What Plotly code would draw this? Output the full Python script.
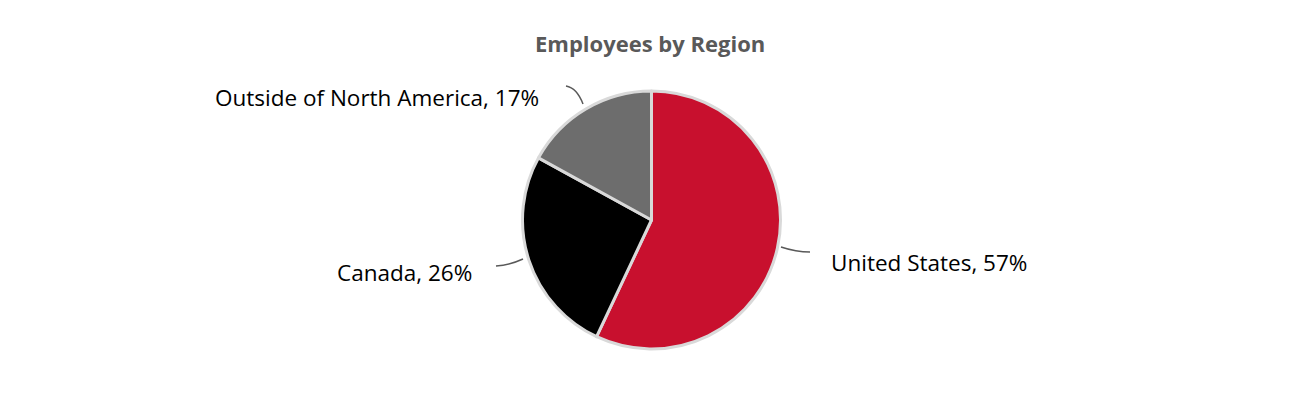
import plotly.graph_objects as go

regions = ["United States", "Canada", "Outside of North America"]
shares = [57, 26, 17]
colors = ["#C8102E", "#000000", "#6D6D6D"]
title_text = "Employees by Region"

W, H = 1300, 400
OFF = 8  # page body margin
cx, cy, R = 651.5, 220, 129

def px(x):
    return (x - OFF) / W

def py(y):
    return 1 - (y - OFF) / H

fig = go.Figure()
fig.add_trace(go.Pie(
    labels=regions, values=shares, sort=False, direction="clockwise", rotation=0,
    marker=dict(colors=colors, line=dict(color="#D9D9D9", width=3)),
    textinfo="none", hoverinfo="label+percent", showlegend=False,
    domain=dict(x=[px(cx - R), px(cx + R)], y=[py(cy + R), py(cy - R)]),
))

# label placement (layout choices) per slice: text anchor + leader path
label_layout = {
    "United States": dict(tx=829, ty=262, anchor="left", path=[(781, 247), (796, 252), (810, 252)]),
    "Canada": dict(tx=474, ty=272, anchor="right", path=[(523, 259), (510, 265), (496, 266)]),
    "Outside of North America": dict(tx=541, ty=97, anchor="right", path=[(583, 104), (577, 88), (566, 86)]),
}

shapes = []
annotations = []
total = sum(shares)
for name, v in zip(regions, shares):
    L = label_layout[name]
    annotations.append(dict(
        x=px(L["tx"]), y=py(L["ty"]), xref="paper", yref="paper",
        text=f"{name}, {round(100 * v / total)}%", showarrow=False,
        xanchor=L["anchor"], yanchor="middle",
        font=dict(family="Open Sans", size=22.5, color="#000000"),
    ))
    (x0, y0), (x1, y1), (x2, y2) = L["path"]
    shapes.append(dict(
        type="path", xref="paper", yref="paper",
        path=f"M {px(x0)} {py(y0)} Q {px(x1)} {py(y1)} {px(x2)} {py(y2)}",
        line=dict(color="#595959", width=1.5),
    ))

annotations.append(dict(
    x=px(650), y=py(43), xref="paper", yref="paper", text=f"<b>{title_text}</b>",
    showarrow=False, xanchor="center", yanchor="middle",
    font=dict(family="Open Sans", size=22, color="#595959"),
))

fig.update_layout(
    width=W, height=H, margin=dict(l=0, r=0, t=0, b=0),
    paper_bgcolor="white", plot_bgcolor="white",
    shapes=shapes, annotations=annotations,
)
fig.write_html("out.html")
